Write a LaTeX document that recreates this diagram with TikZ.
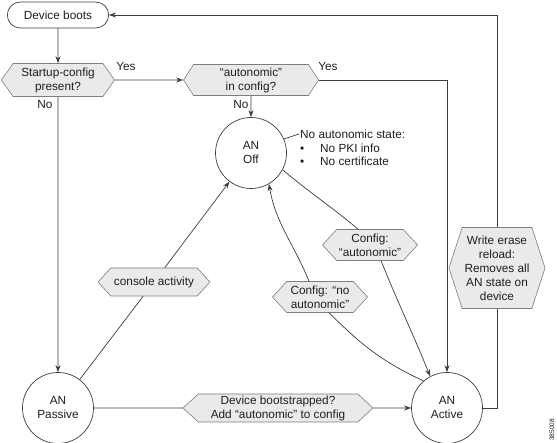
\documentclass[tikz,border=0pt]{standalone}
\usepackage{fontspec}
\setmainfont{Liberation Sans}
\usepackage{tikz}
\usetikzlibrary{shapes.misc, shapes.symbols, arrows.meta}
\definecolor{anline}{RGB}{60, 60, 60}
\definecolor{anhex}{RGB}{233, 235, 233}
\definecolor{anhexline}{RGB}{125, 125, 125}
\definecolor{antext}{RGB}{30, 30, 30}

\begin{document}
\begin{tikzpicture}[x=1pt, y=1pt,
  font=\fontsize{11.8}{14}\selectfont, text=antext,
  state/.style={circle, draw=anline, line width=0.7pt, minimum size=71pt, inner sep=0pt, align=center},
  check/.style={signal, signal to=west and east, signal pointer angle=95, draw=anhexline, fill=anhex, line width=0.6pt, inner sep=1pt, align=center},
  link/.style={draw=anline, line width=0.7pt},
  arr/.style={link, -{Stealth[length=7pt, width=5pt]}},
  tag/.style={inner sep=1pt}]
\useasboundingbox (0,0) rectangle (557,443);

% Boot checks
\node[draw=anline, line width=0.7pt, rounded rectangle, minimum width=108pt, minimum height=26pt] (boots) at (58,428) {Device boots};
\node[check, signal pointer angle=110, minimum width=113pt, minimum height=33pt] (startup) at (58,363) {Startup-config\\present?};
\node[check, signal pointer angle=114, minimum width=135pt, minimum height=31pt] (incfg) at (251,363) {“autonomic”\\in config?};

% States
\node[state] (off) at (251,290) {AN\\Off};
\node[state] (passive) at (58,35) {AN\\Passive};
\node[state] (active) at (447,35) {AN\\Active};

% Events
\node[check, minimum width=112pt, minimum height=28pt] (console) at (154,161) {console activity};
\node[check, signal pointer angle=85, minimum width=190pt, minimum height=28pt] (bootstrap) at (278,35) {Device bootstrapped?\\Add “autonomic” to config};
\node[check, minimum width=95pt, minimum height=31pt] (autoon) at (370,198) {Config:\\“autonomic”};
\node[check, minimum width=95pt, minimum height=31pt] (autooff) at (320,146) {Config: “no\\autonomic”};
\node[check, signal pointer angle=144, minimum width=96pt, minimum height=81pt] (wipe) at (497,175) {Write erase\\reload:\\Removes all\\AN state on\\device};

% Labels
\node[tag] (yes1) at (126,376) {Yes};
\node[tag] (yes2) at (328,376) {Yes};
\node[tag] (no1) at (45,338) {No};
\node[tag] (no2) at (241,338) {No};
\node[tag, anchor=west] (nohead) at (299,309) {No autonomic state:};
\node[anchor=west, align=left, inner sep=0pt, font=\fontsize{11.8}{13}\selectfont] (nolist) at (300,288.5) {\makebox[20pt][l]{\textbullet}No PKI info\\\makebox[20pt][l]{\textbullet}No certificate};
\node[rotate=90, inner sep=0pt, font=\fontsize{6.5}{7}\selectfont] (figid) at (552,13) {385008};

% Flow
\draw[arr] (boots) -- (startup);
\draw[arr] (startup) -- (incfg);
\draw[arr] (startup) -- (passive);
\draw[arr] (incfg) -- (off);
\draw[arr] (incfg) -| (active);
\draw[link] (off.23) -- (nohead.west);
\draw[link] (passive) -- (console);
\draw[arr] (console) -- (off);
\draw[link] (passive) -- (bootstrap);
\draw[arr] (bootstrap) -- (active);
\draw[link] (off.-28) to[out=-40, in=140] (autoon.127);
\draw[arr] (autoon.-55) to[out=-68, in=112] (active.118);
\draw[link] (active.131) to[out=155, in=-45] (autooff.-60);
\draw[arr] (autooff.125) to[out=112, in=-80] (off.-60);
\draw[link] (active) -| (wipe);
\draw[arr] (wipe) |- (boots);
\end{tikzpicture}
\end{document}
